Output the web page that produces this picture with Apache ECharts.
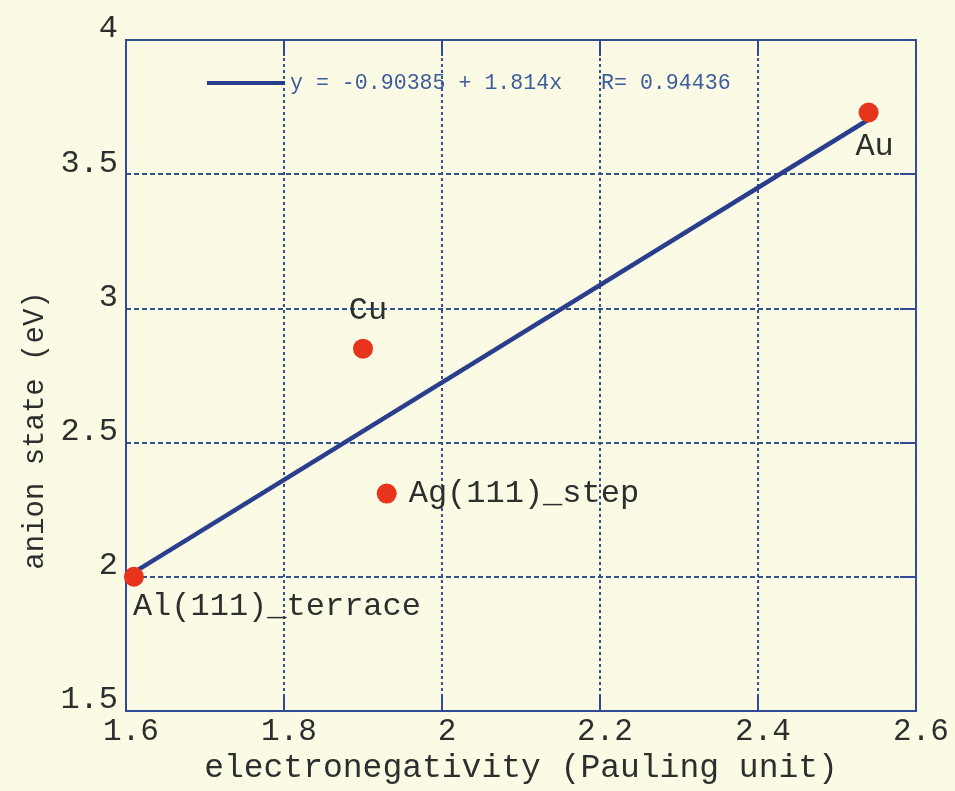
<!DOCTYPE html>
<html>
<head>
<meta charset="utf-8">
<script src="https://cdn.jsdelivr.net/npm/echarts@6/dist/echarts.min.js"></script>
<style>
  html, body { margin: 0; padding: 0; background: #fbfbe5; }
  #chart { width: 955px; height: 791px; }
</style>
</head>
<body>
<div id="chart"></div>
<script>
// Anion-state energy versus Pauling electronegativity of the substrate metal
const metals = ['Al(111)_terrace', 'Cu', 'Ag(111)_step', 'Au'];
const electronegativity = [1.61, 1.90, 1.93, 2.54];
const anionState = [2.00, 2.85, 2.31, 3.73];

// Linear fit reported on the chart
const fitIntercept = -0.90385;
const fitSlope = 1.814;
const fitR = 0.94436;

const xTicks = { min: 1.6, max: 2.6, step: 0.2 };
const yTicks = { min: 1.5, max: 4, step: 0.5 };

const FONT = '"Liberation Mono", "DejaVu Sans Mono", monospace';
const BLUE = '#304c96';
const GRID = '#34518f';
const TEXT = '#2e2e2e';

const fitName = 'y = ' + fitIntercept + ' + ' + fitSlope + 'x   R= ' + fitR;
const xLo = Math.min(...electronegativity);
const xHi = Math.max(...electronegativity);
const fitLine = [xLo, xHi].map(x => [x, fitIntercept + fitSlope * x]);

const labelPlacement = {
  'Al(111)_terrace': { position: [9, 24], align: 'left', verticalAlign: 'top' },
  'Cu': { position: 'top', distance: 12, offset: [5, 0] },
  'Ag(111)_step': { position: 'right', distance: 12 },
  'Au': { position: 'bottom', distance: 8, offset: [6, 0] }
};

const points = metals.map((m, i) => ({
  name: m,
  value: [electronegativity[i], anionState[i]],
  label: labelPlacement[m]
}));

const chart = echarts.init(document.getElementById('chart'));

const tickStyle = { inside: true, length: 16, lineStyle: { color: BLUE, width: 2 } };

chart.setOption({
  backgroundColor: '#fbfbe5',
  animation: false,
  grid: {
    left: 126, right: 39, top: 40, bottom: 80,
    show: true, borderColor: BLUE, borderWidth: 2, backgroundColor: 'transparent'
  },
  legend: {
    data: [fitName],
    icon: 'rect',
    left: 202, top: 67,
    itemWidth: 78, itemHeight: 4, itemGap: 5,
    textStyle: { fontFamily: FONT, fontSize: 21.6, color: '#3d5c9c' }
  },
  xAxis: [{
    type: 'value',
    min: xTicks.min, max: xTicks.max, interval: xTicks.step,
    position: 'bottom',
    name: 'electronegativity (Pauling unit)',
    nameLocation: 'middle', nameGap: 40,
    nameTextStyle: { fontFamily: FONT, fontSize: 33, color: TEXT },
    axisLine: { show: true, lineStyle: { color: BLUE, width: 2 } },
    axisTick: tickStyle,
    axisLabel: { fontFamily: FONT, fontSize: 31, color: TEXT, margin: 5, padding: [0, 0, 0, 10] },
    splitLine: { show: true, lineStyle: { color: GRID, width: 2, type: [3, 3] } }
  }, {
    type: 'value',
    min: xTicks.min, max: xTicks.max, interval: xTicks.step,
    position: 'top',
    axisLine: { show: false },
    axisTick: tickStyle,
    axisLabel: { show: false },
    splitLine: { show: false }
  }],
  yAxis: [{
    type: 'value',
    min: yTicks.min, max: yTicks.max, interval: yTicks.step,
    position: 'left',
    name: 'anion state (eV)',
    nameLocation: 'middle', nameGap: 74,
    nameTextStyle: { fontFamily: FONT, fontSize: 29, color: TEXT, padding: [0, 110, 0, 0] },
    axisLine: { show: true, lineStyle: { color: BLUE, width: 2 } },
    axisTick: { show: false },
    axisLabel: { fontFamily: FONT, fontSize: 32, color: TEXT, margin: 8, verticalAlign: 'bottom', padding: [0, 0, -5, 0] },
    splitLine: { show: true, lineStyle: { color: GRID, width: 1.8, type: [5, 3] } }
  }, {
    type: 'value',
    min: yTicks.min, max: yTicks.max, interval: yTicks.step,
    position: 'right',
    axisLine: { show: false },
    axisTick: tickStyle,
    axisLabel: { show: false },
    splitLine: { show: false }
  }],
  series: [{
    name: fitName,
    type: 'line',
    data: fitLine,
    symbol: 'none',
    lineStyle: { color: '#2b3e8e', width: 4.5 },
    itemStyle: { color: '#2b3e8e' },
    z: 3
  }, {
    name: 'metals',
    type: 'scatter',
    data: points,
    symbolSize: 20,
    itemStyle: { color: '#e8341c', opacity: 1 },
    label: {
      show: true,
      formatter: p => p.name,
      fontFamily: FONT, fontSize: 32, color: TEXT
    },
    z: 4
  }]
});
</script>
</body>
</html>
